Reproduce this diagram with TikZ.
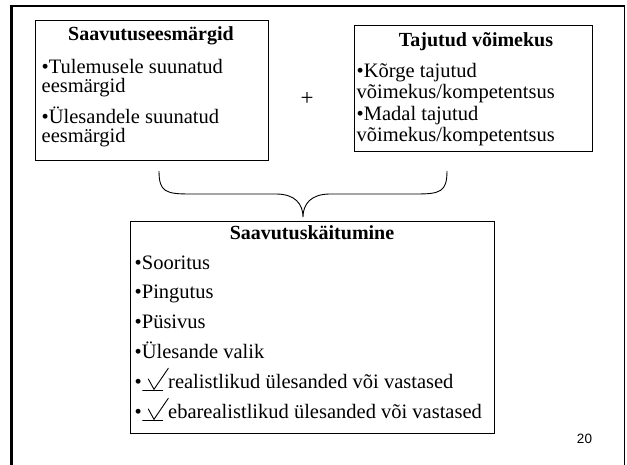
\documentclass[tikz,border=0pt]{standalone}
\usepackage{fontspec}
\setmainfont{Liberation Serif}
\newfontfamily\pgnumfont{Liberation Sans}
\begin{document}
\begin{tikzpicture}[x=1pt,y=-1pt,
  box/.style={draw,line width=1pt,inner sep=0pt,outer sep=0pt},
  body/.style={anchor=base west,inner sep=0pt,font=\fontsize{20.5}{20.5}\selectfont},
  head/.style={anchor=base,inner sep=0pt,font=\fontsize{20}{20}\selectfont\bfseries},
  chk/.style={line width=0.9pt,line cap=round}]
\useasboundingbox (0,0) rectangle (627,465);
% outer frame (open at the bottom)
\coordinate (fbl) at (11,470);
\coordinate (ftl) at (11,6.5);
\coordinate (ftr) at (624.5,6.5);
\coordinate (fbr) at (624.5,470);
\draw[line width=3pt] (fbl) -- (ftl);
\draw[line width=2pt] ([xshift=-1.5pt]ftl) -- ([xshift=0.75pt]ftr);
\draw[line width=1.5pt] (ftr) -- (fbr);
% left box
\node[box,minimum width=233,minimum height=140] (goals) at (151.5,91) {};
\node[head] (goalsT) at (151,41) {Saavutuseesmärgid};
\node[body] (g1) at (41.5,74) {•Tulemusele suunatud};
\node[body] (g2) at (41.5,93) {eesmärgid};
\node[body] (g3) at (41.5,123.5) {•Ülesandele suunatud};
\node[body] (g4) at (41.5,143) {eesmärgid};
% plus
\node[inner sep=0pt,font=\fontsize{23}{23}\selectfont] (plus) at (307,99) {+};
% right box
\node[box,minimum width=238,minimum height=126] (comp) at (473,89) {};
\node[head] (compT) at (476,46.7) {Tajutud võimekus};
\node[body] (c1) at (356.5,78) {•Kõrge tajutud};
\node[body] (c2) at (356.5,98.5) {võimekus/kompetentsus};
\node[body] (c3) at (356.5,121) {•Madal tajutud};
\node[body] (c4) at (356.5,142) {võimekus/kompetentsus};
% brace
\coordinate (bl) at (159,171);
\coordinate (br) at (447,171);
\coordinate (btip) at (303,217);
\draw[line width=0.9pt] (bl) .. controls (159,192) and (166,194) .. (190,194)
  -- (276,194) .. controls (295,194) and (303,204) .. (btip)
  .. controls (303,204) and (311,194) .. (330,194)
  -- (416,194) .. controls (440,194) and (447,192) .. (br);
% bottom box
\node[box,minimum width=364,minimum height=211] (beh) at (312,327.5) {};
\node[head] (behT) at (312,240) {Saavutuskäitumine};
\node[body] (b1) at (134.5,269.5) {•Sooritus};
\node[body] (b2) at (134.5,298.5) {•Pingutus};
\node[body] (b3) at (134.5,328.3) {•Püsivus};
\node[body] (b4) at (134.5,358.3) {•Ülesande valik};
\node[body] (b5d) at (134.5,388.3) {•};
\node[body] (b5) at (168,388.3) {realistlikud ülesanded või vastased};
\node[body] (b6d) at (134.5,418.3) {•};
\node[body] (b6) at (168,418.3) {ebarealistlikud ülesanded või vastased};
% check marks with underline
\draw[chk] (148.3,379) -- (154,389.3) -- (168.3,368.3);
\draw[chk] (142.7,390) -- (162.7,390);
\draw[chk] (148.3,409) -- (154,419.3) -- (168.3,398.3);
\draw[chk] (142.7,420) -- (162.7,420);
% page number
\node[anchor=base,inner sep=0pt,font=\pgnumfont\fontsize{13.5}{13.5}\selectfont] (pg) at (584.5,443) {20};
\end{tikzpicture}
\end{document}
